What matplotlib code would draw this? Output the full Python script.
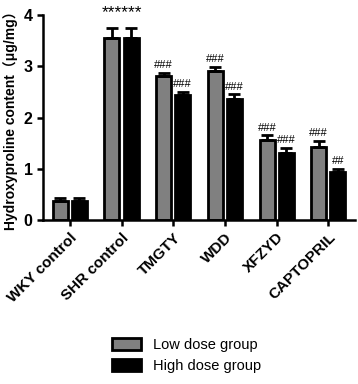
import numpy as np
import matplotlib
matplotlib.use("Agg")
import matplotlib.pyplot as plt
from matplotlib.patches import Patch

groups = ["WKY control", "SHR control", "TMGTY", "WDD", "XFZYD", "CAPTOPRIL"]
low_vals = [0.37, 3.55, 2.80, 2.91, 1.56, 1.42]
low_err = [0.06, 0.20, 0.07, 0.08, 0.09, 0.13]
high_vals = [0.37, 3.55, 2.44, 2.37, 1.31, 0.93]
high_err = [0.06, 0.20, 0.06, 0.08, 0.10, 0.07]
low_marks = ["", "", "###", "###", "###", "###"]
high_marks = ["", "", "###", "###", "###", "##"]
star_label = "******"

plt.rcParams["font.family"] = ["Liberation Sans", "Noto Sans CJK SC", "DejaVu Sans"]

fig = plt.figure(figsize=(3.58, 3.84), dpi=100)
ax = fig.add_axes([0.120, 0.427, 0.872, 0.534])

x = np.arange(len(groups))
w = 0.29
off = 0.185
ekw = dict(elinewidth=2, capthick=2, ecolor="black")
ax.bar(x - off, low_vals, w, color="#808080", edgecolor="black", linewidth=2,
       yerr=[np.zeros(len(x)), low_err], capsize=4, error_kw=ekw, zorder=2)
ax.bar(x + off, high_vals, w, color="black", edgecolor="black", linewidth=2,
       yerr=[np.zeros(len(x)), high_err], capsize=4, error_kw=ekw, zorder=2)

for i in range(len(groups)):
    if low_marks[i]:
        ax.text(x[i] - off, low_vals[i] + low_err[i] + 0.05, low_marks[i],
                ha="center", va="bottom", fontsize=8)
    if high_marks[i]:
        ax.text(x[i] + off, high_vals[i] + high_err[i] + 0.05, high_marks[i],
                ha="center", va="bottom", fontsize=8)
ax.text(x[1], 3.9, star_label, ha="center", va="bottom", fontsize=12.5,
        clip_on=False)

ax.set_xlim(-0.52, 5.52)
ax.set_ylim(0, 4)
ax.set_yticks([0, 1, 2, 3, 4])
ax.set_yticklabels(["0", "1", "2", "3", "4"], fontsize=11.5, fontweight="bold")
ax.set_xticks(x)
ax.set_xticklabels(groups, rotation=45, ha="right", rotation_mode="anchor",
                   fontsize=11, fontweight="bold")
for s in ("top", "right"):
    ax.spines[s].set_visible(False)
for s in ("left", "bottom"):
    ax.spines[s].set_linewidth(1.8)
ax.tick_params(axis="both", width=1.8, length=4)
ax.set_ylabel("Hydroxyproline content（μg/mg）", fontsize=10, fontweight="bold",
              labelpad=4)

handles = [Patch(facecolor="#808080", edgecolor="black", linewidth=2),
           Patch(facecolor="black", edgecolor="black", linewidth=2)]
fig.legend(handles, ["Low dose group", "High dose group"], loc="center",
           bbox_to_anchor=(0.52, 0.074), frameon=False, fontsize=10.5,
           handlelength=2.0, handleheight=0.9, labelspacing=0.5)

fig.savefig("out.png", dpi=100)
